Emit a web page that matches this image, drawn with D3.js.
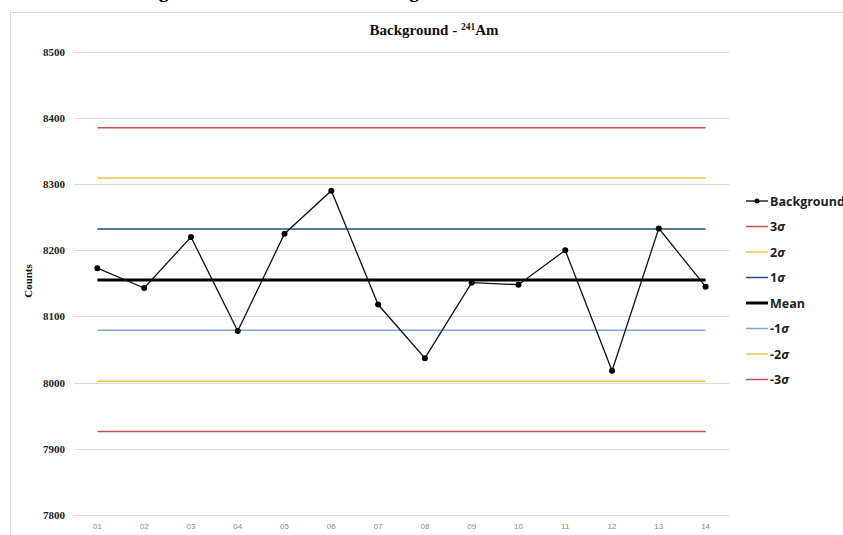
<!DOCTYPE html>
<html>
<head>
<meta charset="utf-8">
<script src="https://cdn.jsdelivr.net/npm/d3@7"></script>
<style>
  html, body { margin: 0; padding: 0; background: #fff; overflow: hidden; }
  svg { display: block; }
</style>
</head>
<body>
<svg id="chart" width="843" height="535"></svg>
<script>
// Sample labels and measured background counts
const categories = ["01","02","03","04","05","06","07","08","09","10","11","12","13","14"];
const counts = [8173, 8143, 8220, 8078, 8225, 8290, 8118, 8037, 8151, 8148, 8200, 8018, 8233, 8145];

// Control limits (mean and ±1σ, ±2σ, ±3σ)
const limitNames = ["3σ", "2σ", "1σ", "Mean", "-1σ", "-2σ", "-3σ"];
const limitValues = [8385, 8309, 8232, 8155, 8079, 8002, 7926];
const limitColors = ["#C0504D", "#EDC04E", "#1F4E79", "#000000", "#7FA6D2", "#EDC04E", "#C0504D"];

const yTicks = [7800, 7900, 8000, 8100, 8200, 8300, 8400, 8500];

const svg = d3.select("#chart");

// Caption line of the page above the chart (only its lower edge is in view)
svg.append("text")
  .attr("x", 141).attr("y", -3)
  .attr("font-family", "Liberation Serif").attr("font-weight", "bold")
  .attr("font-size", 20).attr("fill", "#000")
  .text("Figure 6. Control chart of Background");

// Chart frame
svg.append("rect")
  .attr("x", 10.5).attr("y", 12.5).attr("width", 900).attr("height", 600)
  .attr("fill", "#fff").attr("stroke", "#d9d9d9").attr("stroke-width", 1);

const x = d3.scaleBand().domain(categories).range([74, 729]);
const cx = d => x(d) + x.bandwidth() / 2;
const y = d3.scaleLinear().domain([7800, 8500]).range([515, 51.7]);

// Horizontal gridlines
svg.append("g").selectAll("line").data(yTicks).join("line")
  .attr("x1", 74).attr("x2", 729)
  .attr("y1", d => Math.round(y(d)) + 0.5).attr("y2", d => Math.round(y(d)) + 0.5)
  .attr("stroke", "#d9d9d9").attr("stroke-width", 1);

// Y axis tick labels
const yAxis = d3.axisLeft(y).tickValues(yTicks).tickSize(0).tickPadding(0).tickFormat(d3.format("d"));
const gy = svg.append("g").attr("transform", "translate(65,0)").call(yAxis);
gy.select(".domain").remove();
gy.selectAll("text")
  .attr("font-family", "Liberation Serif").attr("font-weight", "bold")
  .attr("font-size", 11).attr("fill", "#222");

// X axis tick labels
const xAxis = d3.axisBottom(x).tickSize(0).tickPadding(0);
const gx = svg.append("g").attr("transform", "translate(0,523)").call(xAxis);
gx.select(".domain").remove();
gx.selectAll("text")
  .attr("font-family", "Liberation Sans").attr("font-size", 8)
  .attr("fill", "#888");

// Y axis title
svg.append("text")
  .attr("transform", "translate(32,281) rotate(-90)")
  .attr("text-anchor", "middle")
  .attr("font-family", "Liberation Serif").attr("font-weight", "bold")
  .attr("font-size", 11).attr("fill", "#111")
  .text("Counts");

// Chart title
const title = svg.append("text")
  .attr("x", 434).attr("y", 35).attr("text-anchor", "middle")
  .attr("font-family", "Liberation Serif").attr("font-weight", "bold")
  .attr("font-size", 15).attr("fill", "#111");
title.append("tspan").text("Background - ");
title.append("tspan").attr("font-size", 9.5).attr("dy", -5).text("241");
title.append("tspan").attr("dy", 5).text("Am");

// Control limit lines
const x0 = cx(categories[0]), x1 = cx(categories[categories.length - 1]);
limitValues.forEach((v, i) => {
  svg.append("line")
    .attr("x1", x0).attr("x2", x1)
    .attr("y1", y(v)).attr("y2", y(v))
    .attr("stroke", limitColors[i])
    .attr("stroke-width", limitNames[i] === "Mean" ? 3 : 1.5);
});

// Background series
const line = d3.line().x((d, i) => cx(categories[i])).y(d => y(d));
svg.append("path").datum(counts)
  .attr("d", line).attr("fill", "none")
  .attr("stroke", "#111").attr("stroke-width", 1.3);
svg.append("g").selectAll("circle").data(counts).join("circle")
  .attr("cx", (d, i) => cx(categories[i])).attr("cy", d => y(d))
  .attr("r", 3).attr("fill", "#000");

// Legend
const legendItems = [{ name: "Background", color: "#000", marker: true, w: 1.3 }]
  .concat(limitNames.map((n, i) => ({ name: n, color: limitColors[i], marker: false, w: n === "Mean" ? 3 : 1.5 })));
const lg = svg.append("g").attr("transform", "translate(746,201)");
legendItems.forEach((it, i) => {
  const g = lg.append("g").attr("transform", `translate(0,${i * 25.5})`);
  g.append("line").attr("x1", 0).attr("x2", 22).attr("y1", 0).attr("y2", 0)
    .attr("stroke", it.color).attr("stroke-width", it.w);
  if (it.marker) g.append("circle").attr("cx", 11).attr("cy", 0).attr("r", 2.5).attr("fill", "#000");
  const t = g.append("text").attr("x", 24).attr("y", 4.5)
    .attr("font-family", "Open Sans").attr("font-weight", "bold")
    .attr("font-size", 12.5).attr("fill", "#222");
  const m = it.name.match(/^(-?\d?)σ$/);
  if (m) {
    t.append("tspan").text(m[1]);
    t.append("tspan").attr("font-style", "italic").text("σ");
  } else {
    t.text(it.name);
  }
});
</script>
</body>
</html>
